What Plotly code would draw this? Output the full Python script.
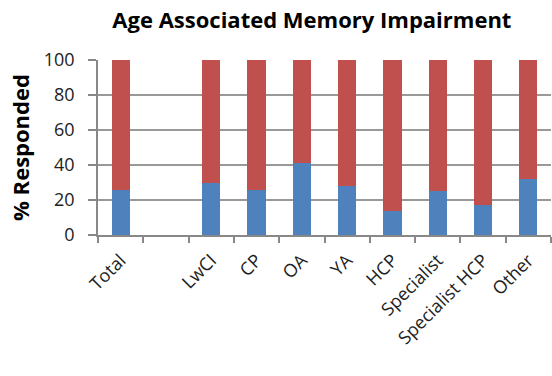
import plotly.graph_objects as go

categories = ["Total", " ", "LwCI", "CP", "OA", "YA", "HCP", "Specialist", "Specialist HCP", "Other"]
blue_vals = [26, None, 30, 26, 41, 28, 14, 25, 17, 32]
red_vals = [74, None, 70, 74, 59, 72, 86, 75, 83, 68]
y_ticks = [0, 20, 40, 60, 80, 100]

fig = go.Figure()
fig.add_trace(go.Bar(x=categories, y=blue_vals, marker=dict(color="#4F81BD", line=dict(width=0)), width=0.4, name="Yes"))
fig.add_trace(go.Bar(x=categories, y=red_vals, marker=dict(color="#C0504D", line=dict(width=0)), width=0.4, name="No"))

font_family = "Open Sans, Liberation Sans, sans-serif"
fig.update_layout(
    barmode="stack",
    width=552, height=376,
    margin=dict(l=98, r=1, t=60, b=141),
    paper_bgcolor="white", plot_bgcolor="white",
    showlegend=False,
    font=dict(family=font_family, size=18, color="#222"),
    title=dict(text="<b>Age Associated Memory Impairment</b>", x=0.565, xanchor="center", y=0.945, yanchor="middle",
               font=dict(size=22, color="black", family=font_family)),
    bargap=0.6,
)
fig.update_xaxes(
    type="category", tickangle=-45, showline=True, linecolor="#888", linewidth=1.5,
    ticks="outside", tickson="boundaries", ticklen=6, tickcolor="#888", tickwidth=1.5,
    ticklabelstandoff=6,
    showgrid=False, tickfont=dict(size=18, color="#222"),
)
fig.update_yaxes(
    range=[0, 100], tickvals=y_ticks, showline=True, linecolor="#888", linewidth=1.5,
    ticks="outside", ticklen=8, tickcolor="#888", tickwidth=1.5, ticklabelstandoff=10,
    showgrid=True, gridcolor="#999", gridwidth=1.5, zeroline=False,
    tickfont=dict(size=18, color="#222"),
    title=dict(text="<b>% Responded</b>", font=dict(size=22, color="black"), standoff=8),
)

fig.write_html("out.html")
